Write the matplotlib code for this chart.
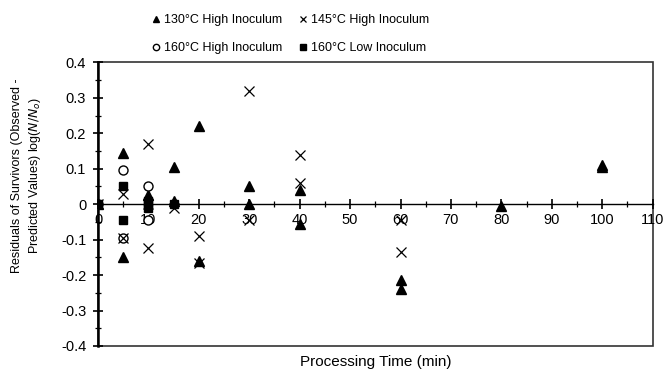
import matplotlib
matplotlib.use('Agg')
import matplotlib.pyplot as plt
from matplotlib.ticker import MultipleLocator, FuncFormatter
from matplotlib.patches import Rectangle

plt.rcParams['font.family'] = ['Liberation Sans', 'DejaVu Sans']
plt.rcParams['font.size'] = 10

# Residuals (observed - predicted) of log survivors vs processing time
t130 = [0, 5, 5, 10, 15, 15, 20, 20, 30, 30, 40, 40, 60, 60, 80, 100, 100]
r130 = [0, 0.145, -0.15, 0.025, 0.105, 0.01, 0.22, -0.16, 0.05, 0.0,
        0.04, -0.055, -0.215, -0.24, -0.005, 0.105, 0.11]

t145 = [0, 5, 5, 10, 10, 10, 15, 20, 20, 30, 30, 40, 40, 60, 60]
r145 = [0, 0.03, -0.095, 0.17, -0.125, 0.0, -0.01, -0.09, -0.165,
        0.32, -0.045, 0.14, 0.06, -0.135, -0.045]

t160_high = [0, 5, 5, 10, 10]
r160_high = [0, 0.095, -0.095, 0.05, -0.045]

t160_low = [0, 5, 5, 10, 10, 10, 15]
r160_low = [0, 0.05, -0.045, 0.01, 0.0, -0.01, 0.0]

fig = plt.figure(figsize=(6.69, 3.71), dpi=100)
ax = fig.add_axes([0.1465, 0.0674, 0.829, 0.7646])

ax.plot(t130, r130, '^', color='black', markersize=7, linestyle='none',
        label='130°C High Inoculum')
ax.plot(t160_high, r160_high, 'o', markerfacecolor='white', markeredgecolor='black',
        markersize=6.5, linestyle='none', label='160°C High Inoculum')
ax.plot(t145, r145, 'x', color='black', markersize=7, markeredgewidth=0.9,
        linestyle='none', label='145°C High Inoculum')
ax.plot(t160_low, r160_low, 's', color='black', markersize=6, linestyle='none',
        label='160°C Low Inoculum')

ax.set_xlim(0, 110)
ax.set_ylim(-0.4, 0.4)

# x axis crosses at zero, frame drawn separately
ax.spines['bottom'].set_position(('data', 0))
ax.spines['bottom'].set_linewidth(1.0)
ax.spines['left'].set_linewidth(1.8)
ax.spines['top'].set_visible(False)
ax.spines['right'].set_visible(False)
ax.add_patch(Rectangle((0, 0), 1, 1, transform=ax.transAxes, fill=False,
                       edgecolor='#333333', linewidth=1.2, zorder=0, clip_on=False))

ax.xaxis.set_major_locator(MultipleLocator(10))
ax.xaxis.set_minor_locator(MultipleLocator(5))
ax.yaxis.set_major_locator(MultipleLocator(0.1))
ax.yaxis.set_minor_locator(MultipleLocator(0.05))
ax.yaxis.set_major_formatter(FuncFormatter(lambda v, p: '0' if abs(v) < 1e-9 else '%.1f' % v))
ax.tick_params(axis='both', which='major', direction='inout', length=7, width=1.2,
               labelsize=10.5, colors='black')
ax.tick_params(axis='both', which='minor', direction='inout', length=5, width=0.9)
ax.tick_params(axis='x', pad=3)
ax.tick_params(axis='y', pad=5)

ax.set_xlabel('Processing Time (min)', fontsize=11)
ax.xaxis.set_label_coords(0.5, -0.03)
ax.set_ylabel('Residuals of Survivors (Observed -\nPredicted Values) log($\\it{N/N_o}$)',
              fontsize=9, linespacing=1.3)
ax.yaxis.set_label_coords(-0.1, 0.6)

fig.legend(loc='upper left', bbox_to_anchor=(0.211, 0.992), ncol=2, frameon=False,
           fontsize=9, handlelength=0.6, handletextpad=0.3, columnspacing=1.4,
           markerscale=0.7, labelspacing=1.3)

fig.savefig('out.png', dpi=100)
